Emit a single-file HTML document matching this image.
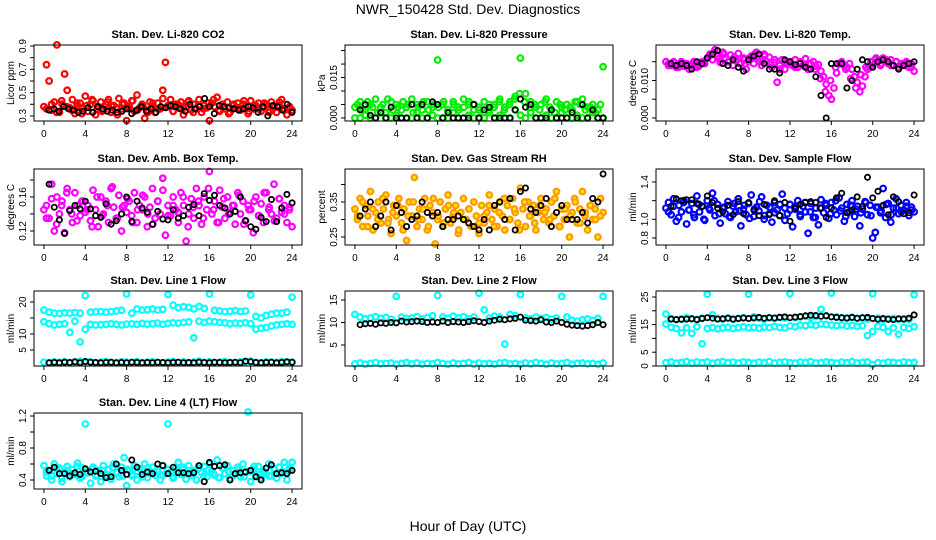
<!DOCTYPE html>
<html><head><meta charset="utf-8"><style>
html,body{margin:0;padding:0;background:#fff;width:936px;height:540px;overflow:hidden}
svg{display:block;font-family:"Liberation Sans",sans-serif}
</style></head><body>
<svg id="chart" width="936" height="540" viewBox="0 0 936 540" xmlns="http://www.w3.org/2000/svg">
<rect x="0" y="0" width="936" height="540" fill="#fff"/>
<text x="468" y="14" text-anchor="middle" font-size="14">NWR_150428  Std. Dev. Diagnostics</text>
<text x="468" y="531" text-anchor="middle" font-size="14">Hour of Day (UTC)</text>
</svg>
<script>
// ---- data ----
const xTicks = [0,4,8,12,16,20,24];
const co2Red = [0.38,0.74,0.60,0.35,0.42,0.91,0.33,0.40,0.66,0.52,0.37,0.44,0.32,0.39,0.41,0.36,0.47,0.34,0.40,0.43,0.31,0.38,0.42,0.35,0.40,0.44,0.33,0.39,0.37,0.45,0.36,0.41,0.26,0.38,0.43,0.34,0.48,0.37,0.40,0.28,0.35,0.42,0.38,0.33,0.41,0.36,0.52,0.76,0.39,0.44,0.34,0.40,0.37,0.42,0.31,0.38,0.43,0.35,0.40,0.36,0.44,0.33,0.39,0.37,0.26,0.41,0.38,0.46,0.34,0.40,0.36,0.42,0.33,0.39,0.37,0.41,0.35,0.40,0.38,0.32,0.43,0.36,0.39,0.41,0.34,0.38,0.40,0.35,0.42,0.37,0.33,0.39,0.44,0.36,0.31,0.38,0.35];
const co2Red2 = [0.36,0.40,0.33,0.43,0.38,0.35,0.41,0.32,0.39,0.44,0.36,0.34,0.42,0.38,0.31,0.40,0.37,0.43,0.35,0.39,0.33,0.41,0.36,0.45,0.38,0.34,0.40,0.37,0.42,0.33,0.39,0.36,0.41,0.44,0.35,0.38,0.32,0.40,0.37,0.43,0.34,0.39,0.36,0.41,0.33,0.38,0.42,0.35,0.37];
const co2Black = [0.35,0.36,0.34,0.38,0.36,0.35,0.33,0.34,0.37,0.33,0.38,0.36,0.34,0.35,0.33,0.34,0.36,0.32,0.35,0.38,0.34,0.36,0.33,0.38,0.37,0.39,0.38,0.36,0.34,0.40,0.36,0.38,0.45,0.38,0.32,0.39,0.38,0.37,0.36,0.35,0.36,0.38,0.37,0.33,0.38,0.30,0.39,0.38,0.35,0.40,0.33];
const presGreenA = [0.004,0.006,0.003,0.005,0.007,0.004,0.002,0.006,0.005,0.003,0.004,0.007,0.005,0.003,0.006,0.004,0.0215,0.005,0.003,0.006,0.004,0.007,0.005,0.003,0.004,0.006,0.003,0.005,0.007,0.004,0.006,0.008,0.0222,0.009,0.006,0.004,0.005,0.007,0.003,0.006,0.004,0.005,0.003,0.006,0.007,0.004,0.005,0.003,0.019];
const presGreenB = [0,0,0.001,0,0,0.002,0,0,0.001,0,0,0,0.002,0,0,0.001,0,0,0,0.002,0,0,0.001,0,0,0,0.002,0,0.001,0,0,0.003,0.001,0,0.002,0,0,0.001,0,0,0.002,0,0,0.001,0,0,0.002,0,0];
const presGreenC = [0.005,0.003,0.006,0.004,0.002,0.005,0.007,0.003,0.004,0.006,0.005,0.002,0.004,0.006,0.003,0.005,0.004,0.006,0.002,0.005,0.003,0.004,0.006,0.005,0.003,0.002,0.005,0.004,0.006,0.003,0.005,0.007,0.009,0.006,0.004,0.005,0.003,0.006,0.004,0.002,0.005,0.003,0.004,0.006,0.005,0.003,0.004,0.002,0.005];
const presBlack = [0.003,0.005,0.001,0.000,0.002,0.000,0.004,0.000,0.000,0.000,0.005,0.000,0.005,0.000,0.006,0.005,0.000,0.002,0.000,0.000,0.000,0.000,0.005,0.000,0.003,0.004,0.000,0.000,0.000,0.000,0.003,0.007,0.004,0.005,0.000,0.000,0.000,0.003,0.000,0.000,0.000,0.002,0.000,0.005,0.000,0.003,0.000,0.000];
const tempMag = [0.0150,0.0145,0.0140,0.0148,0.0135,0.0142,0.0150,0.0138,0.0145,0.0130,0.0140,0.0148,0.0135,0.0142,0.0150,0.0145,0.0160,0.0170,0.0155,0.0182,0.0165,0.0148,0.0175,0.0160,0.0150,0.0168,0.0140,0.0155,0.0172,0.0145,0.0160,0.0130,0.0150,0.0165,0.0145,0.0175,0.0158,0.0140,0.0170,0.0150,0.0162,0.0135,0.0148,0.0095,0.0140,0.0155,0.0130,0.0145,0.0150,0.0140,0.0155,0.0135,0.0148,0.0140,0.0158,0.0130,0.0145,0.0150,0.0138,0.0142,0.0125,0.0110,0.0090,0.0060,0.0050,0.0080,0.0120,0.0145,0.0150,0.0140,0.0135,0.0145,0.0130,0.0110,0.0095,0.0070,0.0085,0.0110,0.0130,0.0135,0.0140,0.0155,0.0150,0.0140,0.0160,0.0150,0.0145,0.0155,0.0140,0.0150,0.0135,0.0145,0.0140,0.0150,0.0135,0.0145,0.0125];
const tempMag2 = [0.0140,0.0150,0.0135,0.0145,0.0140,0.0150,0.0138,0.0148,0.0165,0.0175,0.0158,0.0170,0.0150,0.0162,0.0145,0.0155,0.0160,0.0170,0.0150,0.0165,0.0145,0.0155,0.0130,0.0150,0.0145,0.0135,0.0150,0.0140,0.0145,0.0130,0.0105,0.0070,0.0100,0.0135,0.0145,0.0130,0.0105,0.0080,0.0115,0.0135,0.0150,0.0160,0.0145,0.0155,0.0140,0.0150,0.0140,0.0145,0.0135];
const tempBlack = [0.0145,0.0140,0.0145,0.0140,0.0130,0.0150,0.0145,0.0160,0.0170,0.0180,0.0145,0.0140,0.0155,0.0135,0.0125,0.0155,0.0165,0.0170,0.0145,0.0130,0.0130,0.0120,0.0155,0.0150,0.0142,0.0145,0.0135,0.0130,0.0110,0.0060,0.0000,0.0145,0.0145,0.0145,0.0080,0.0100,0.0130,0.0155,0.0150,0.0135,0.0150,0.0155,0.0150,0.0140,0.0130,0.0140,0.0145,0.0150];
const ambMag = [0.145,0.150,0.135,0.175,0.120,0.160,0.140,0.155,0.118,0.170,0.145,0.130,0.165,0.150,0.138,0.155,0.142,0.150,0.132,0.168,0.145,0.125,0.160,0.140,0.155,0.130,0.170,0.148,0.135,0.162,0.120,0.150,0.142,0.155,0.138,0.165,0.130,0.150,0.145,0.160,0.125,0.148,0.170,0.135,0.155,0.140,0.182,0.115,0.150,0.138,0.160,0.145,0.130,0.165,0.150,0.108,0.140,0.158,0.135,0.170,0.150,0.128,0.160,0.145,0.190,0.140,0.155,0.130,0.168,0.148,0.135,0.160,0.142,0.150,0.128,0.165,0.140,0.155,0.132,0.150,0.145,0.118,0.160,0.138,0.152,0.130,0.165,0.145,0.140,0.175,0.135,0.158,0.142,0.150,0.130,0.148,0.125];
const ambMag2 = [0.135,0.158,0.128,0.150,0.165,0.140,0.132,0.155,0.145,0.125,0.160,0.138,0.150,0.172,0.135,0.148,0.158,0.130,0.145,0.162,0.140,0.128,0.155,0.168,0.138,0.150,0.142,0.160,0.125,0.148,0.155,0.135,0.170,0.145,0.130,0.158,0.140,0.150,0.162,0.128,0.145,0.155,0.138,0.165,0.148,0.132,0.158,0.140,0.145];
const ambBlack = [0.175,0.148,0.133,0.117,0.144,0.150,0.146,0.155,0.146,0.138,0.136,0.152,0.128,0.132,0.140,0.160,0.131,0.155,0.147,0.142,0.128,0.143,0.134,0.133,0.145,0.135,0.138,0.148,0.151,0.138,0.164,0.156,0.162,0.150,0.147,0.140,0.143,0.160,0.132,0.125,0.122,0.136,0.131,0.157,0.131,0.147,0.163,0.153];
const rhOrange = [0.33,0.30,0.36,0.28,0.34,0.31,0.38,0.27,0.32,0.35,0.29,0.33,0.37,0.30,0.26,0.34,0.31,0.36,0.29,0.33,0.24,0.35,0.31,0.42,0.28,0.33,0.30,0.36,0.27,0.34,0.32,0.23,0.30,0.35,0.28,0.33,0.37,0.29,0.31,0.34,0.26,0.32,0.36,0.30,0.33,0.28,0.35,0.31,0.26,0.34,0.29,0.32,0.37,0.30,0.33,0.28,0.35,0.31,0.27,0.34,0.30,0.36,0.32,0.29,0.39,0.33,0.28,0.35,0.31,0.34,0.27,0.32,0.36,0.30,0.33,0.29,0.35,0.31,0.38,0.28,0.33,0.30,0.34,0.25,0.32,0.36,0.29,0.33,0.38,0.31,0.27,0.34,0.30,0.33,0.25,0.36,0.32];
const rhOrange2 = [0.31,0.35,0.28,0.33,0.30,0.36,0.29,0.32,0.34,0.27,0.31,0.35,0.30,0.33,0.28,0.36,0.31,0.29,0.34,0.32,0.27,0.30,0.33,0.35,0.29,0.31,0.34,0.28,0.32,0.36,0.30,0.33,0.27,0.35,0.31,0.29,0.34,0.32,0.30,0.36,0.28,0.33,0.31,0.35,0.29,0.32,0.34,0.30,0.31];
const rhBlack = [0.31,0.33,0.35,0.28,0.31,0.35,0.27,0.34,0.32,0.28,0.30,0.31,0.35,0.32,0.31,0.32,0.28,0.30,0.30,0.31,0.30,0.29,0.28,0.27,0.30,0.27,0.34,0.35,0.30,0.36,0.27,0.38,0.39,0.33,0.32,0.34,0.36,0.28,0.32,0.34,0.30,0.30,0.30,0.32,0.29,0.36,0.35,0.43];
const flowBlue = [1.12,1.18,1.05,1.22,0.98,1.15,1.08,1.20,0.95,1.10,1.17,1.02,1.25,1.08,1.14,0.99,1.20,1.10,1.28,1.04,1.16,0.96,1.12,1.06,1.19,1.02,1.14,1.08,1.22,0.93,1.11,1.05,1.17,1.26,1.03,1.13,1.09,1.24,1.00,1.15,1.06,0.97,1.18,1.10,1.04,1.27,1.12,1.06,1.16,0.92,1.11,1.20,1.03,1.14,1.08,0.85,1.17,1.02,1.12,0.94,1.21,1.07,1.15,1.01,1.18,1.10,1.05,1.23,1.12,0.98,1.16,1.08,1.20,1.03,1.14,0.93,1.11,1.19,1.05,1.15,0.80,0.86,1.13,1.07,1.33,1.02,1.17,0.97,1.12,1.22,1.06,1.15,1.10,1.18,1.04,1.13,1.08];
const flowBlue2 = [1.08,1.14,1.02,1.18,1.10,1.05,1.16,1.00,1.12,1.20,1.06,1.13,1.03,1.17,1.09,1.15,1.01,1.11,1.19,1.04,1.13,1.07,1.16,0.99,1.10,1.14,1.05,1.18,1.08,1.02,1.12,1.17,1.06,1.20,1.09,1.03,1.15,1.11,1.07,1.18,1.04,1.13,1.09,1.16,1.05,1.12,1.08,1.14,1.10];
const flowBlack = [1.14,1.22,1.20,1.21,1.21,1.17,1.14,1.25,1.18,1.12,1.08,1.15,1.05,1.19,1.06,1.18,1.10,1.04,1.16,1.05,1.20,1.04,1.18,0.98,1.12,1.16,1.18,1.19,1.18,1.12,1.02,1.12,1.23,1.28,1.07,1.10,1.24,1.14,1.45,1.23,1.30,1.15,1.05,1.24,1.19,1.06,1.07,1.26];
const l1Top = [17.5,16.8,16.5,16.4,16.6,16.5,16.7,16.5,22.0,16.8,16.9,17.0,16.8,17.0,17.2,17.4,22.5,16.5,17.8,17.5,17.6,17.8,17.5,17.7,22.3,19.0,18.2,18.5,18.3,17.8,18.6,18.0,22.5,17.4,17.2,17.0,17.1,17.3,17.0,17.2,22.2,15.5,15.0,15.8,16.2,16.5,16.5,16.8,21.5];
const l1Mid = [13.8,13.2,12.8,13.0,13.2,10.5,14.0,7.5,11.5,13.0,12.8,12.9,13.0,13.2,13.0,12.8,13.1,13.2,13.0,13.3,13.1,13.2,13.4,13.0,13.3,13.5,13.4,13.6,13.8,8.8,14.0,13.6,14.0,13.8,13.6,13.5,13.2,13.4,13.3,13.5,13.2,11.5,11.8,12.0,12.5,12.8,13.0,13.2,13.0];
const l1Low = [1.2,1.0,1.3,1.1,1.4,1.0,1.2,1.5,1.1,1.3,1.0,1.2,1.4,1.1,1.0,1.3,1.2,1.1,1.4,1.0,1.2,1.3,1.1,1.0,1.2,1.4,1.1,1.3,1.0,1.2,1.5,1.1,1.3,1.0,1.2,1.4,1.1,1.0,1.3,1.2,1.5,1.1,1.0,1.3,1.2,1.1,1.4,1.0,1.2];
const l1Black = [1.0,1.1,1.0,1.2,1.1,1.3,1.0,1.4,1.2,1.1,1.0,1.1,1.2,1.0,1.1,1.0,1.2,1.1,1.0,1.1,1.0,1.2,1.1,1.0,1.1,1.2,1.0,1.1,1.0,1.2,1.1,1.0,1.2,1.1,1.0,1.1,1.2,1.0,1.5,1.3,1.1,1.0,1.1,1.2,1.0,1.1,1.3,1.2];
const l2Top = [11.8,11.2,10.8,11.0,11.3,10.9,11.1,10.7,15.8,11.2,10.9,11.0,11.3,10.8,11.1,11.5,16.0,11.2,10.9,11.4,11.0,11.3,10.8,11.2,16.5,12.8,11.0,11.4,11.2,5.2,11.8,11.5,16.2,11.0,10.8,11.2,10.9,11.1,10.7,11.0,15.8,11.2,10.5,10.3,10.6,10.8,10.4,10.9,15.8];
const l2Low = [0.8,1.0,0.7,0.9,1.1,0.8,0.9,1.0,0.7,0.9,1.1,0.8,1.0,0.7,0.9,0.8,1.1,0.9,0.7,1.0,0.8,0.9,1.1,0.7,1.0,0.8,0.9,0.7,1.0,1.1,0.8,0.9,0.7,1.0,0.8,1.1,0.9,0.7,1.0,0.8,0.9,1.1,0.7,0.9,1.0,0.8,0.9,0.7,1.0];
const l2Black = [9.5,9.7,9.8,9.6,9.9,9.8,10.0,9.9,10.3,10.1,10.2,10.3,10.2,10.0,10.1,10.0,10.3,10.0,10.2,10.1,10.0,10.2,10.4,10.2,10.0,10.3,10.5,10.7,10.6,10.8,10.9,11.2,10.5,10.4,10.3,10.6,10.1,10.0,10.3,10.0,9.6,9.4,9.3,9.2,9.3,9.5,10.0,9.5];
const l3Top = [18.8,17.2,16.8,17.0,17.5,17.1,16.9,17.3,26.0,18.5,17.2,17.0,17.4,16.9,17.2,17.5,26.0,17.8,17.3,17.0,17.5,17.2,17.6,17.4,26.2,17.5,17.8,18.0,17.6,17.9,20.5,18.2,26.4,17.8,17.5,17.3,17.6,17.2,17.4,17.0,26.2,17.3,16.8,17.0,17.2,16.9,17.1,16.8,25.8];
const l3Mid = [15.2,14.0,13.6,12.0,13.8,11.8,14.2,8.0,13.6,13.9,13.5,13.8,14.0,13.6,13.9,14.2,13.8,14.0,13.7,14.1,13.9,14.3,14.0,13.8,14.5,14.2,14.8,14.6,15.0,14.7,15.2,15.0,14.8,14.6,14.9,14.5,14.7,14.3,14.6,11.0,12.5,14.4,14.0,12.5,13.8,11.5,14.0,13.6,14.2];
const l3Low = [1.2,1.5,1.0,1.3,1.6,1.1,1.4,1.2,1.5,1.0,1.3,1.6,1.2,1.4,1.1,1.5,1.3,1.0,1.4,1.2,1.6,1.1,1.3,1.5,1.2,1.0,1.4,1.3,1.6,1.1,1.2,1.5,1.3,1.0,1.4,1.2,1.6,1.1,1.3,1.5,0.5,1.2,1.0,1.4,1.3,1.1,1.5,1.2,1.3];
const l3Black = [17.0,16.8,16.9,17.0,17.1,16.8,17.2,17.5,17.3,17.0,17.1,17.3,17.0,17.2,17.4,17.2,17.4,17.6,17.3,17.5,17.4,17.6,17.8,17.5,17.7,17.9,18.2,18.4,18.3,18.0,18.2,17.8,17.6,17.5,17.4,17.6,17.3,17.5,17.6,17.2,16.9,17.2,17.0,16.8,17.1,17.0,17.3,18.5];
const l4Cyan = [0.58,0.45,0.52,0.40,0.60,0.48,0.55,0.38,0.50,0.57,0.44,0.53,0.47,0.61,0.42,0.55,1.10,0.49,0.36,0.56,0.45,0.52,0.38,0.58,0.46,0.53,0.41,0.60,0.50,0.44,0.56,0.68,0.33,0.52,0.45,0.58,0.40,0.54,0.47,0.60,0.43,0.51,0.56,0.46,0.53,0.40,0.58,0.48,1.10,0.50,0.44,0.55,0.62,0.47,0.53,0.41,0.58,0.46,0.52,0.40,0.55,0.49,0.57,0.44,0.60,0.51,0.46,0.65,0.43,0.55,0.48,0.58,0.42,0.52,0.47,0.56,0.44,0.60,0.50,1.25,0.38,0.53,0.46,0.57,0.43,0.51,0.48,0.60,0.45,0.54,0.42,0.56,0.49,0.62,0.40,0.55,0.62];
const l4Cyan2 = [0.50,0.45,0.55,0.42,0.52,0.48,0.57,0.44,0.50,0.54,0.46,0.52,0.43,0.56,0.49,0.45,0.53,0.47,0.51,0.44,0.55,0.48,0.50,0.46,0.53,0.42,0.51,0.56,0.47,0.49,0.54,0.45,0.52,0.48,0.43,0.55,0.50,0.46,0.53,0.44,0.51,0.57,0.47,0.49,0.45,0.53,0.48,0.50,0.52];
const l4Black = [0.52,0.56,0.48,0.48,0.45,0.49,0.47,0.54,0.50,0.51,0.48,0.43,0.44,0.60,0.52,0.47,0.65,0.56,0.47,0.50,0.48,0.60,0.58,0.48,0.56,0.49,0.49,0.48,0.49,0.58,0.38,0.62,0.57,0.58,0.59,0.40,0.48,0.49,0.50,0.52,0.44,0.40,0.55,0.59,0.48,0.49,0.48,0.52];

const CY='#00ffff', BK='#000000';
const panels = [
 {name:'co2',title:'Stan. Dev. Li-820 CO2',ylab:'Licor ppm',col:0,row:0,lim:[0.2565,0.909],ticks:[0.3,0.4,0.5,0.6,0.7,0.8,0.9],labels:['0.3','','0.5','','0.7','','0.9'],
  series:[{v:co2Red,c:'#ff0000',full:1},{v:co2Red2,c:'#ff0000',full:1,off:1},{v:co2Black,c:BK}]},
 {name:'pressure',title:'Stan. Dev. Li-820 Pressure',ylab:'kPa',col:1,row:0,lim:[-0.00113,0.02707],ticks:[0,0.005,0.01,0.015,0.02,0.025],labels:['0.000','','','0.015','',''],
  series:[{v:presGreenA,c:'#00ee00',full:1},{v:presGreenB,c:'#00ee00',full:1},{v:presGreenC,c:'#00ee00',full:1,off:1},{v:presBlack,c:BK}]},
 {name:'temp',title:'Stan. Dev. Li-820 Temp.',ylab:'degrees C',col:2,row:0,lim:[-0.00081,0.01946],ticks:[0,0.005,0.01,0.015],labels:['0.000','','0.010',''],
  series:[{v:tempMag,c:'#ff00ff',full:1},{v:tempMag2,c:'#ff00ff',full:1,off:1},{v:tempBlack,c:BK}]},
 {name:'amb-temp',title:'Stan. Dev. Amb. Box Temp.',ylab:'degrees C',col:0,row:1,lim:[0.1035,0.1929],ticks:[0.12,0.14,0.16,0.18],labels:['0.12','','0.16',''],
  series:[{v:ambMag,c:'#ff00ff',full:1},{v:ambMag2,c:'#ff00ff',full:1,off:1},{v:ambBlack,c:BK}]},
 {name:'rh',title:'Stan. Dev. Gas Stream RH',ylab:'percent',col:1,row:1,lim:[0.2271,0.4443],ticks:[0.25,0.3,0.35,0.4],labels:['0.25','','0.35',''],
  series:[{v:rhOrange,c:'#ff9900',fill:'#ffe600',full:1},{v:rhOrange2,c:'#ff9900',fill:'#ffe600',full:1,off:1},{v:rhBlack,c:BK}]},
 {name:'sample-flow',title:'Stan. Dev. Sample Flow',ylab:'ml/min',col:2,row:1,lim:[0.725,1.539],ticks:[0.8,1.0,1.2,1.4],labels:['0.8','1.0','','1.4'],
  series:[{v:flowBlue,c:'#0000ff',full:1},{v:flowBlue2,c:'#0000ff',full:1,off:1},{v:flowBlack,c:BK}]},
 {name:'line1-flow',title:'Stan. Dev. Line 1 Flow',ylab:'ml/min',col:0,row:2,lim:[0,23.44],ticks:[5,10,15,20],labels:['5','10','','20'],
  series:[{v:l1Top,c:CY,full:1},{v:l1Mid,c:CY,full:1},{v:l1Low,c:CY,full:1},{v:l1Black,c:BK}]},
 {name:'line2-flow',title:'Stan. Dev. Line 2 Flow',ylab:'ml/min',col:1,row:2,lim:[0.333,17],ticks:[5,10,15],labels:['5','10','15'],
  series:[{v:l2Top,c:CY,full:1},{v:l2Low,c:CY,full:1},{v:l2Black,c:BK}]},
 {name:'line3-flow',title:'Stan. Dev. Line 3 Flow',ylab:'ml/min',col:2,row:2,lim:[0,27.17],ticks:[0,5,10,15,20,25],labels:['0','5','','15','','25'],
  series:[{v:l3Top,c:CY,full:1},{v:l3Mid,c:CY,full:1},{v:l3Low,c:CY,full:1},{v:l3Black,c:BK}]},
 {name:'line4-flow',title:'Stan. Dev. Line 4 (LT) Flow',ylab:'ml/min',col:0,row:3,lim:[0.2875,1.2375],ticks:[0.4,0.6,0.8,1.0,1.2],labels:['0.4','','0.8','','1.2'],
  series:[{v:l4Cyan,c:CY,full:1},{v:l4Cyan2,c:CY,full:1,off:1},{v:l4Black,c:BK}]}
];
const colX=[34,345,656], W=268;
const rowY=[[45,121],[169,245],[291,366],[413,489]];
const XLIM=[-0.96,24.96];
const svg=document.getElementById('chart');
const NS='http://www.w3.org/2000/svg';
function mk(tag,attrs,parent){const e=document.createElementNS(NS,tag);for(const k in attrs)e.setAttribute(k,attrs[k]);(parent||svg).appendChild(e);return e;}

panels.forEach(p=>{
  const x0=colX[p.col], x1=x0+W, yT=rowY[p.row][0], yB=rowY[p.row][1];
  const g=mk('g',{});
  
  
  const sx=v=>x0+(v-XLIM[0])/(XLIM[1]-XLIM[0])*W;
  const sy=v=>yB-(v-p.lim[0])/(p.lim[1]-p.lim[0])*(yB-yT);
  const cx=(x0+x1)/2;
  const t=mk('text',{x:cx,y:yT-7,'text-anchor':'middle','font-size':'11','font-weight':'bold'},g);
  t.textContent=p.title;
  
  
  const pg=mk('g',{},g);
  
  
  p.series.forEach(s=>{
    const n=s.v.length;
    s.v.forEach((val,i)=>{
      let tt;
      if(s.off) tt = 0.25+i*23.5/(n-1);
      else if(s.full) tt = i*24/(n-1);
      else tt = 0.5+i*23.5/(n-1);
      const c=mk('circle',{cx:sx(tt).toFixed(1),cy:sy(val).toFixed(1),r:s.full?2.8:2.6,fill:s.fill||'none',stroke:s.c,'stroke-width':s.full?2.2:1.8},pg);
      
      
    });
  });
  const b=mk('rect',{x:x0,y:yT,width:W,height:yB-yT,fill:'none',stroke:'#000','stroke-width':1},g);
  
  
  const xa=mk('g',{},g);
  
  
  mk('line',{x1:sx(xTicks[0]),x2:sx(xTicks[xTicks.length-1]),y1:yB,y2:yB,stroke:'#000'},xa);
  xTicks.forEach(v=>{
    mk('line',{x1:sx(v),x2:sx(v),y1:yB,y2:yB+4,stroke:'#000'},xa);
    const l=mk('text',{x:sx(v),y:yB+16,'text-anchor':'middle','font-size':'10'},xa);
    l.textContent=v;
    
    
  });
  const ya=mk('g',{},g);
  
  
  const tk=p.ticks.filter(v=>sy(v)>=yT-0.5&&sy(v)<=yB+0.5);
  mk('line',{x1:x0,x2:x0,y1:sy(tk[0]),y2:sy(tk[tk.length-1]),stroke:'#000'},ya);
  p.ticks.forEach((v,i)=>{
    const y=sy(v); if(y<yT-0.5||y>yB+0.5) return;
    mk('line',{x1:x0-4,x2:x0,y1:y,y2:y,stroke:'#000'},ya);
    if(p.labels[i]){
      const l=mk('text',{x:0,y:0,'text-anchor':'middle','font-size':'10',transform:`translate(${x0-8},${y}) rotate(-90)`},ya);
      l.textContent=p.labels[i];
      
      
    }
  });
  const yl=mk('text',{x:0,y:0,'text-anchor':'middle','font-size':'10',transform:`translate(${x0-20},${(yT+yB)/2}) rotate(-90)`},g);
  yl.textContent=p.ylab;
  
  
});
</script>
</body></html>
